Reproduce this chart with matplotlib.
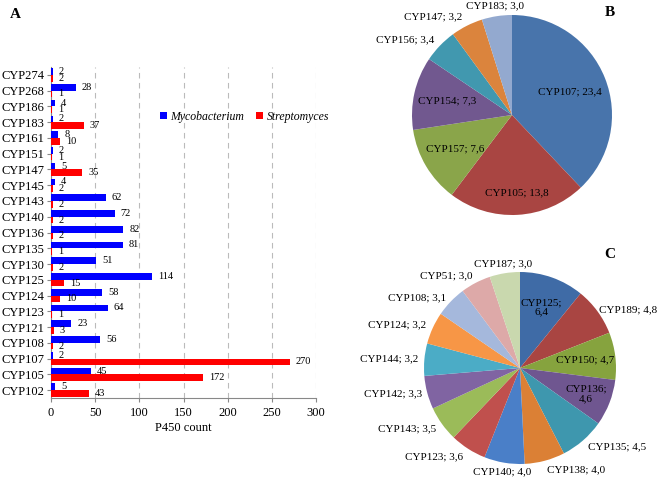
import numpy as np
import matplotlib
matplotlib.use('Agg')
import matplotlib.pyplot as plt

plt.rcParams['font.family'] = ['Liberation Serif', 'DejaVu Serif']

# panel A data (top to bottom)
cyps = ['CYP274', 'CYP268', 'CYP186', 'CYP183', 'CYP161', 'CYP151', 'CYP147',
        'CYP145', 'CYP143', 'CYP140', 'CYP136', 'CYP135', 'CYP130', 'CYP125',
        'CYP124', 'CYP123', 'CYP121', 'CYP108', 'CYP107', 'CYP105', 'CYP102']
myco = [2, 28, 4, 2, 8, 2, 5, 4, 62, 72, 82, 81, 51, 114, 58, 64, 23, 56, 2, 45, 5]
strep = [2, 1, 1, 37, 10, 1, 35, 2, 2, 2, 2, 1, 2, 15, 10, 1, 3, 2, 270, 172, 43]

# panel B data
b_labels = ['CYP107', 'CYP105', 'CYP157', 'CYP154', 'CYP156', 'CYP147', 'CYP183']
b_vals = [23.4, 13.8, 7.6, 7.3, 3.4, 3.2, 3.0]
b_colors = ['#4874AB', '#A94542', '#8AA54A', '#71588F', '#4198AF', '#DB843D', '#93A9CF']

# panel C data
c_labels = ['CYP125', 'CYP189', 'CYP150', 'CYP136', 'CYP135', 'CYP138', 'CYP140',
            'CYP123', 'CYP143', 'CYP142', 'CYP144', 'CYP124', 'CYP108', 'CYP51', 'CYP187']
c_vals = [6.4, 4.8, 4.7, 4.6, 4.5, 4.0, 4.0, 3.6, 3.5, 3.3, 3.2, 3.2, 3.1, 3.0, 3.0]
c_colors = ['#3F6BA6', '#A94542', '#86A33E', '#6F5690', '#3E97AE', '#DB8035',
            '#4A7FC8', '#C0504D', '#9BBB59', '#8064A2', '#4BACC6', '#F79646',
            '#A5B8DC', '#DDA9A8', '#C9D8AE']

W, H = 658, 480
fig = plt.figure(figsize=(W / 100, H / 100), dpi=100)


def px_axes(left, top, width, height):
    return fig.add_axes([left / W, 1 - (top + height) / H, width / W, height / H])


# ---- panel A: horizontal bars
ax = px_axes(51, 67, 265, 331)
y = np.arange(len(cyps))[::-1]
h = 0.42
ax.barh(y + h / 2, myco, height=h, color='#0000FF', label='Mycobacterium', zorder=3)
ax.barh(y - h / 2, strep, height=h, color='#FF0000', label='Streptomyces', zorder=3)
for yi, m, s in zip(y, myco, strep):
    ax.text(m + 7, yi + h / 2, str(m), fontsize=7.5, va='center', ha='left')
    ax.text(s + 7, yi - h / 2, str(s), fontsize=7.5, va='center', ha='left')
ax.set_ylim(-0.5, len(cyps) - 0.5)
ax.set_xlim(0, 300)
ax.set_xticks(range(0, 301, 50))
ax.set_yticks(y)
ax.set_yticklabels(cyps, fontsize=9)
ax.tick_params(axis='x', labelsize=9, length=3, color='#888888')
ax.tick_params(axis='y', length=3, color='#888888', pad=2)
ax.grid(axis='x', color='#BBBBBB', linestyle=(0, (5, 4)), linewidth=0.8, zorder=0)
for sp in ['top', 'right']:
    ax.spines[sp].set_visible(False)
for sp in ['left', 'bottom']:
    ax.spines[sp].set_color('#888888')
ax.set_xlabel('P450 count', fontsize=9, labelpad=2)
leg = ax.legend(loc='center left', bbox_to_anchor=(0.37, 0.85), ncol=2, frameon=False,
                prop={'style': 'italic', 'size': 8.5}, handlelength=0.6, handleheight=0.6,
                handletextpad=0.3, columnspacing=1.0)
fig.text(10 / W, 1 - 15 / H, 'A', fontsize=11, fontweight='bold', va='center')


def draw_pie(cx, cy, r, vals, labels, colors, dists, aligns, twoline):
    pa = px_axes(cx - r, cy - r, 2 * r, 2 * r)
    wedges, _ = pa.pie(vals, colors=colors, startangle=90, counterclock=False,
                       radius=1, wedgeprops=dict(linewidth=0))
    pa.set_xlim(-1, 1)
    pa.set_ylim(-1, 1)
    pa.set_aspect('equal')
    pa.axis('off')
    for w, v, lab, d, ha, tl in zip(wedges, vals, labels, dists, aligns, twoline):
        ang = np.deg2rad((w.theta1 + w.theta2) / 2)
        x, yy = d * np.cos(ang), d * np.sin(ang)
        sep = ';\n' if tl else '; '
        txt = lab + sep + f'{v:.1f}'.replace('.', ',')
        pa.text(x, yy, txt, fontsize=8, ha=ha, va='center', clip_on=False,
                linespacing=1.1)
    return pa


# ---- panel B
draw_pie(512, 115, 100, b_vals, b_labels, b_colors,
         [0.62, 0.78, 0.66, 0.66, 1.08, 1.1, 1.1],
         ['center', 'center', 'center', 'center', 'right', 'right', 'center'],
         [False] * 7)
fig.text(610 / W, 1 - 13 / H, 'B', fontsize=11, fontweight='bold', va='center', ha='center')

# ---- panel C
draw_pie(520, 368, 96, c_vals, c_labels, c_colors,
         [0.67, 1.02, 0.68, 0.74, 1.08, 1.1, 1.1, 1.1, 1.08, 1.06, 1.06, 1.08, 1.06, 1.08, 1.1],
         ['center', 'left', 'center', 'center', 'left', 'left', 'center', 'right',
          'right', 'right', 'right', 'right', 'right', 'right', 'center'],
         [True, False, False, True] + [False] * 11)
fig.text(610 / W, 1 - 255 / H, 'C', fontsize=11, fontweight='bold', va='center', ha='center')

fig.savefig('out.png', dpi=100)
